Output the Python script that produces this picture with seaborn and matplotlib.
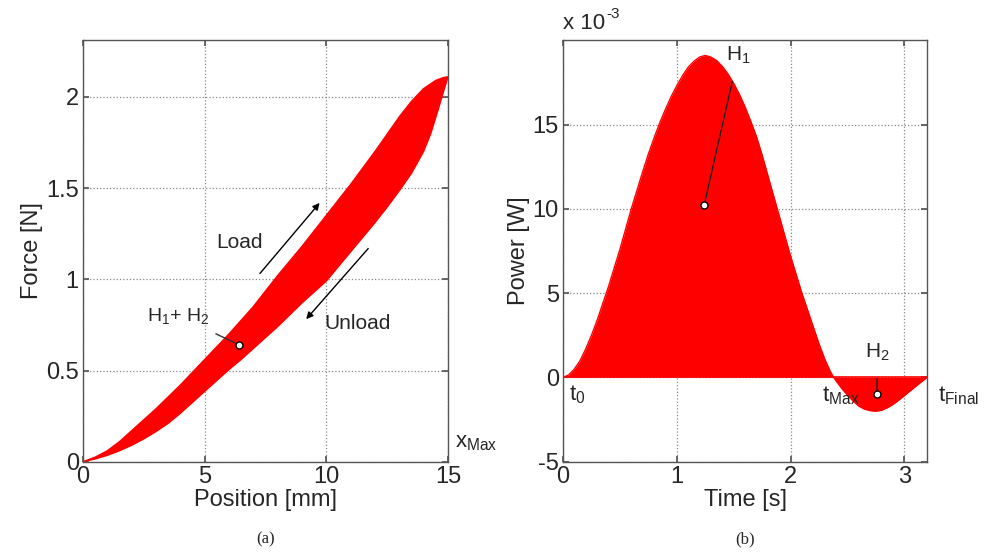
import numpy as np
import pandas as pd
import matplotlib
matplotlib.use("Agg")
import matplotlib.pyplot as plt
import seaborn as sns

# load / unload curves (force vs position)
pos_load = [0, 0.5, 1, 1.5, 2, 2.5, 3, 3.5, 4, 4.5, 5, 5.5, 6, 6.5, 7, 7.5, 8, 8.5, 9, 9.5,
            10, 10.5, 11, 11.5, 12, 12.5, 13, 13.5, 14, 14.5, 14.8, 15]
force_load = [0, 0.025, 0.06, 0.11, 0.17, 0.23, 0.29, 0.355, 0.42, 0.49, 0.56, 0.63, 0.70,
              0.775, 0.85, 0.935, 1.02, 1.10, 1.18, 1.265, 1.35, 1.435, 1.52, 1.61, 1.70,
              1.795, 1.89, 1.975, 2.045, 2.09, 2.105, 2.11]
pos_unload = [0, 0.5, 1, 1.5, 2, 2.5, 3, 3.5, 4, 4.5, 5, 5.5, 6, 6.5, 7, 7.5, 8, 8.5, 9, 9.5,
              10, 10.5, 11, 11.5, 12, 12.5, 13, 13.5, 14, 14.3, 14.6, 14.8, 14.95, 15]
force_unload = [0, 0.015, 0.035, 0.06, 0.09, 0.125, 0.165, 0.21, 0.265, 0.325, 0.385, 0.445,
                0.505, 0.56, 0.62, 0.68, 0.74, 0.805, 0.87, 0.93, 0.99, 1.07, 1.15, 1.23,
                1.31, 1.395, 1.485, 1.58, 1.70, 1.80, 1.93, 2.02, 2.085, 2.11]

# power vs time (x 1e-3 W)
time_s = [0, 0.05, 0.1, 0.15, 0.2, 0.25, 0.3, 0.35, 0.4, 0.45, 0.5, 0.55, 0.6, 0.65, 0.7,
          0.75, 0.8, 0.85, 0.9, 0.95, 1.0, 1.05, 1.1, 1.15, 1.2, 1.25, 1.3, 1.35, 1.4, 1.45,
          1.5, 1.55, 1.6, 1.65, 1.7, 1.75, 1.8, 1.85, 1.9, 1.95, 2.0, 2.05, 2.1, 2.15, 2.2,
          2.25, 2.3, 2.35, 2.38, 2.4, 2.45, 2.5, 2.55, 2.6, 2.65, 2.7, 2.75, 2.8, 2.85, 2.9,
          2.95, 3.0, 3.05, 3.1, 3.15, 3.2]
power = [0, 0.15, 0.5, 1.0, 1.7, 2.5, 3.4, 4.4, 5.4, 6.5, 7.6, 8.8, 10.0, 11.1, 12.2, 13.25,
         14.2, 15.1, 15.9, 16.65, 17.3, 17.9, 18.4, 18.75, 19.0, 19.1, 19.0, 18.8, 18.45,
         18.0, 17.45, 16.8, 16.05, 15.2, 14.3, 13.2, 12.0, 10.8, 9.6, 8.4, 7.2, 6.1, 5.0,
         4.0, 3.0, 2.0, 1.1, 0.35, 0, -0.2, -0.65, -1.05, -1.4, -1.7, -1.88, -1.97, -2.0,
         -1.95, -1.8, -1.6, -1.35, -1.08, -0.8, -0.53, -0.26, 0]

sns.set_theme(style="ticks")
plt.rcParams['font.family'] = ['Liberation Sans', 'DejaVu Sans']
plt.rcParams['mathtext.default'] = 'regular'
plt.rcParams['axes.unicode_minus'] = False

fig = plt.figure(figsize=(9.84, 5.59), dpi=100)
ax1 = fig.add_axes([0.0843, 0.174, 0.3709, 0.754])
ax2 = fig.add_axes([0.5722, 0.174, 0.3699, 0.754])

red = '#ff0000'

# (a) hysteresis loop
df_load = pd.DataFrame({'x': pos_load, 'F': force_load})
df_unload = pd.DataFrame({'x': pos_unload, 'F': force_unload})
ax1.fill(np.r_[pos_load, pos_unload[::-1]], np.r_[force_load, force_unload[::-1]],
         color=red, lw=0, zorder=2)
sns.lineplot(data=df_load, x='x', y='F', ax=ax1, color=red, lw=1, sort=False, zorder=2)
sns.lineplot(data=df_unload, x='x', y='F', ax=ax1, color=red, lw=1, sort=False, zorder=2)
ax1.set_xlim(0, 15)
ax1.set_ylim(0, 2.31)
ax1.set_xticks([0, 5, 10, 15])
ax1.set_yticks([0, 0.5, 1, 1.5, 2])
ax1.set_yticklabels(['0', '0.5', '1', '1.5', '2'])
ax1.set_xlabel('Position [mm]', fontsize=17, labelpad=1)
ax1.set_ylabel('Force [N]', fontsize=17, labelpad=2)

ax1.annotate('', xy=(9.8, 1.43), xytext=(7.2, 1.02),
             arrowprops=dict(arrowstyle='-|>', color='black', lw=1, mutation_scale=10))
ax1.annotate('', xy=(9.1, 0.77), xytext=(11.8, 1.18),
             arrowprops=dict(arrowstyle='-|>', color='black', lw=1, mutation_scale=10))
ax1.text(6.45, 1.2, 'Load', fontsize=15, ha='center', va='center')
ax1.text(11.3, 0.755, 'Unload', fontsize=15, ha='center', va='center')
ax1.annotate('H$_1$+ H$_2$', xy=(6.43, 0.64), xytext=(3.9, 0.80), fontsize=14,
             ha='center', va='center',
             arrowprops=dict(arrowstyle='-', color='#333333', lw=1, shrinkA=8, shrinkB=2))
ax1.plot([6.43], [0.64], 'o', ms=5, mfc='white', mec='black', mew=1, zorder=5)
ax1.text(1.02, 0.02, 'x$_{Max}$', transform=ax1.transAxes, fontsize=16,
         ha='left', va='bottom')

# (b) power
df_pow = pd.DataFrame({'t': time_s, 'P': power})
ax2.fill_between(time_s, power, 0, color=red, lw=0, zorder=2)
sns.lineplot(data=df_pow, x='t', y='P', ax=ax2, color=red, lw=1, zorder=2)
ax2.plot([2.38, 3.2], [0, 0], color=red, lw=1.2, zorder=2)
ax2.set_xlim(0, 3.2)
ax2.set_ylim(-5, 20)
ax2.set_xticks([0, 1, 2, 3])
ax2.set_yticks([-5, 0, 5, 10, 15])
ax2.set_xlabel('Time [s]', fontsize=17, labelpad=1)
ax2.set_ylabel('Power [W]', fontsize=17, labelpad=2)
# exponent label, plain hyphen like the original
ax2.text(0, 1.015, 'x 10', transform=ax2.transAxes, fontsize=16,
         ha='left', va='bottom')
ax2.annotate('-3', xy=(0, 1.015), xycoords='axes fraction', xytext=(31, 9),
             textcoords='offset points', fontsize=11, ha='left', va='bottom')

ax2.annotate('H$_1$', xy=(1.24, 10.2), xytext=(1.54, 19.1), fontsize=15,
             ha='center', va='center',
             arrowprops=dict(arrowstyle='-', color='#222222', lw=1, shrinkA=9, shrinkB=3))
ax2.plot([1.24], [10.2], 'o', ms=5, mfc='white', mec='black', mew=1, zorder=5)
ax2.annotate('H$_2$', xy=(2.76, -1.0), xytext=(2.76, 1.5), fontsize=15,
             ha='center', va='center',
             arrowprops=dict(arrowstyle='-', color='#222222', lw=1, shrinkA=9, shrinkB=3))
ax2.plot([2.76], [-1.0], 'o', ms=5, mfc='white', mec='black', mew=1, zorder=5)
ax2.text(0.05, -1.0, 't$_0$', fontsize=16, ha='left', va='center')
ax2.text(2.28, -1.1, 't$_{Max}$', fontsize=16, ha='left', va='center')
ax2.text(3.3, -1.1, 't$_{Final}$', fontsize=16, ha='left', va='center', clip_on=False)

for ax in (ax1, ax2):
    ax.grid(True, color='#888888', linestyle=':', lw=0.9)
    ax.tick_params(direction='in', length=4, labelsize=17, top=True, right=True,
                   color='#555555', pad=3)
    for s in ax.spines.values():
        s.set_color('#555555')
        s.set_linewidth(1)

fig.text(0.270, 0.028, '(a)', fontsize=12, family='Liberation Serif', ha='center')
fig.text(0.757, 0.028, '(b)', fontsize=12, family='Liberation Serif', ha='center')

fig.savefig('out.png', dpi=100, facecolor='white')
